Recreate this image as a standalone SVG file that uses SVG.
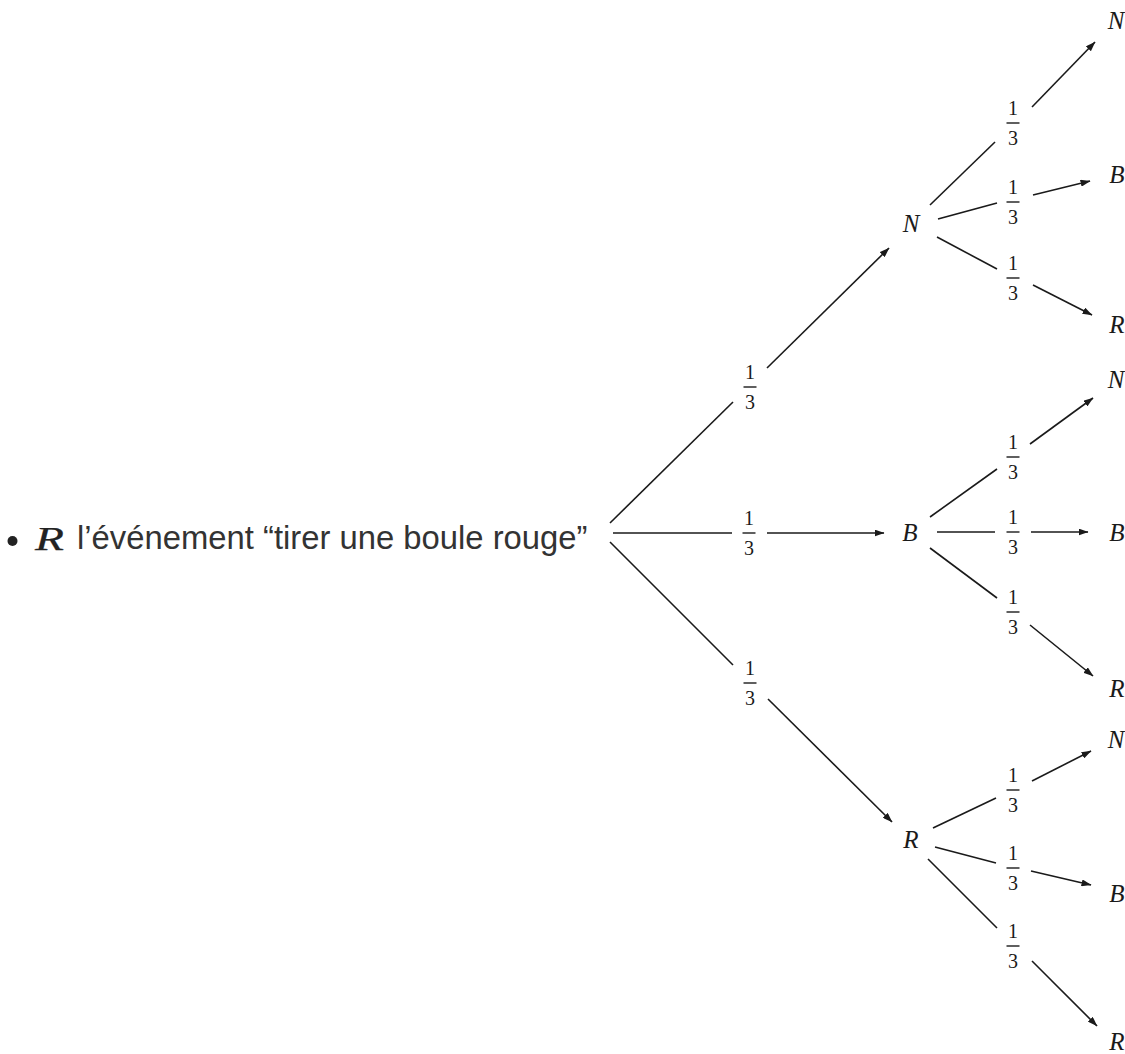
<svg xmlns="http://www.w3.org/2000/svg" width="1125" height="1054" viewBox="0 0 1125 1054">
<style>
.bg{fill:#ffffff}
.lbl{font-family:"Liberation Sans",Arial,sans-serif;font-size:32.8px;fill:#333333}
.mi{font-family:"Liberation Serif","Times New Roman",serif;font-style:italic;fill:#222222}
.node{font-family:"Liberation Serif","Times New Roman",serif;font-style:italic;font-size:25px;fill:#1a1a1a;text-anchor:middle}
.num{font-family:"Liberation Serif","Times New Roman",serif;font-size:20px;fill:#1a1a1a;text-anchor:middle}
.bar{stroke:#1a1a1a;stroke-width:1.4}
.edge{stroke:#1a1a1a;stroke-width:1.6;fill:none}
.arr{marker-end:url(#ah)}
</style>
<defs>
<marker id="ah" markerUnits="userSpaceOnUse" markerWidth="10" markerHeight="7" refX="9.5" refY="3.5" orient="auto">
<path d="M0,0 L10,3.5 L0,7 z" fill="#1a1a1a"/>
</marker>
<g id="frac">
<text class="num" x="0" y="-8">1</text>
<line class="bar" x1="-6.5" y1="0" x2="6.5" y2="0"/>
<text class="num" x="0" y="22">3</text>
</g>
</defs>
<rect class="bg" x="0" y="0" width="1125" height="1054"/>

<g id="root-label">
<circle cx="12.5" cy="541" r="5" fill="#222"/>
<text class="mi" x="35" y="550" font-size="34" textLength="29" lengthAdjust="spacingAndGlyphs" stroke="#222" stroke-width="0.25">R</text>
<text class="lbl" x="77" y="549">l’événement “tirer une boule rouge”</text>
</g>

<g id="connectors">
<!-- level 1 -->
<line class="edge" x1="610" y1="523" x2="733" y2="402"/>
<line class="edge arr" x1="767" y1="368" x2="889" y2="248"/>
<line class="edge" x1="613" y1="533" x2="732" y2="533"/>
<line class="edge arr" x1="767" y1="533" x2="884" y2="533"/>
<line class="edge" x1="610" y1="542" x2="733" y2="665"/>
<line class="edge arr" x1="768" y1="699" x2="892" y2="822"/>
<!-- from N -->
<line class="edge" x1="930" y1="205" x2="995" y2="142"/>
<line class="edge arr" x1="1032" y1="107" x2="1095" y2="42"/>
<line class="edge" x1="938" y1="219" x2="997" y2="203"/>
<line class="edge arr" x1="1033" y1="195" x2="1090" y2="181"/>
<line class="edge" x1="937" y1="237" x2="997" y2="269"/>
<line class="edge arr" x1="1033" y1="285" x2="1092" y2="315"/>
<!-- from B -->
<line class="edge" x1="930" y1="517" x2="997" y2="469"/>
<line class="edge arr" x1="1030" y1="444" x2="1093" y2="398"/>
<line class="edge" x1="937" y1="532" x2="995" y2="532"/>
<line class="edge arr" x1="1031" y1="532" x2="1088" y2="532"/>
<line class="edge" x1="930" y1="548" x2="997" y2="598"/>
<line class="edge arr" x1="1030" y1="625" x2="1093" y2="676"/>
<!-- from R -->
<line class="edge" x1="933" y1="828" x2="996" y2="798"/>
<line class="edge arr" x1="1032" y1="781" x2="1091" y2="751"/>
<line class="edge" x1="935" y1="847" x2="996" y2="863"/>
<line class="edge arr" x1="1031" y1="871" x2="1091" y2="885"/>
<line class="edge" x1="928" y1="859" x2="997" y2="928"/>
<line class="edge arr" x1="1032" y1="961" x2="1097" y2="1026"/>
</g>

<g id="edge-labels">
<use href="#frac" x="750" y="387"/>
<use href="#frac" x="749" y="533"/>
<use href="#frac" x="750" y="683"/>
<use href="#frac" x="1013" y="123"/>
<use href="#frac" x="1013" y="202"/>
<use href="#frac" x="1013" y="278"/>
<use href="#frac" x="1013" y="457"/>
<use href="#frac" x="1013" y="532"/>
<use href="#frac" x="1013" y="612"/>
<use href="#frac" x="1013" y="790"/>
<use href="#frac" x="1013" y="868"/>
<use href="#frac" x="1013" y="946"/>
</g>

<g id="node-N1"><text class="node" x="911" y="232">N</text></g>
<g id="node-B1"><text class="node" x="910" y="541">B</text></g>
<g id="node-R1"><text class="node" x="911" y="848">R</text></g>

<g id="node-NN"><text class="node" x="1116" y="29">N</text></g>
<g id="node-NB"><text class="node" x="1117" y="183">B</text></g>
<g id="node-NR"><text class="node" x="1117" y="333">R</text></g>

<g id="node-BN"><text class="node" x="1116" y="388">N</text></g>
<g id="node-BB"><text class="node" x="1117" y="541">B</text></g>
<g id="node-BR"><text class="node" x="1117" y="697">R</text></g>

<g id="node-RN"><text class="node" x="1116" y="748">N</text></g>
<g id="node-RB"><text class="node" x="1117" y="902">B</text></g>
<g id="node-RR"><text class="node" x="1117" y="1050">R</text></g>
</svg>
